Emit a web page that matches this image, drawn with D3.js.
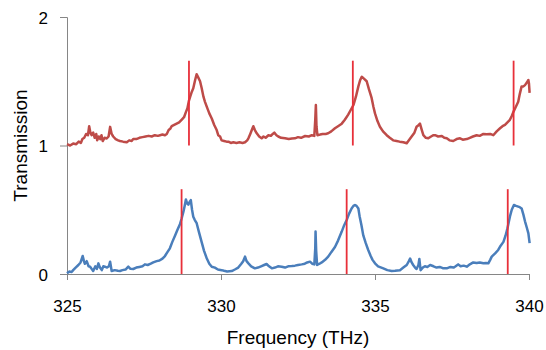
<!DOCTYPE html>
<html>
<head>
<meta charset="utf-8">
<script src="https://cdn.jsdelivr.net/npm/d3@7"></script>
<style>
  body { margin: 0; background: #fff; }
  #grafica text { font-family: "Liberation Sans", Arial, sans-serif; fill: #000; }
</style>
</head>
<body>
<div id="grafica"></div>
<script>
// datos
const freqRojo = [325.00,325.10,325.20,325.30,325.38,325.45,325.50,325.56,325.62,325.68,325.72,325.76,325.80,325.85,325.90,325.95,325.98,326.03,326.08,326.12,326.16,326.22,326.29,326.35,326.40,326.45,326.50,326.58,326.66,326.72,326.82,326.94,327.02,327.10,327.15,327.25,327.35,327.45,327.55,327.65,327.75,327.85,327.95,328.02,328.10,328.18,328.24,328.30,328.35,328.40,328.48,328.56,328.64,328.72,328.80,328.86,328.91,328.96,329.00,329.04,329.10,329.16,329.21,329.26,329.32,329.37,329.43,329.48,329.54,329.62,329.70,329.78,329.86,329.91,329.97,330.02,330.10,330.18,330.24,330.32,330.40,330.50,330.60,330.70,330.78,330.85,330.89,330.95,331.00,331.05,331.10,331.16,331.24,331.32,331.38,331.45,331.54,331.62,331.68,331.73,331.80,331.86,331.95,332.08,332.20,332.30,332.40,332.50,332.60,332.73,332.85,332.95,333.03,333.06,333.08,333.10,333.13,333.22,333.30,333.40,333.48,333.58,333.70,333.80,333.92,334.02,334.13,334.22,334.30,334.38,334.46,334.52,334.57,334.64,334.73,334.80,334.89,334.95,335.00,335.08,335.16,335.26,335.38,335.48,335.59,335.70,335.80,335.92,336.03,336.10,336.19,336.28,336.35,336.42,336.46,336.52,336.57,336.65,336.73,336.82,336.90,336.95,337.05,337.17,337.25,337.33,337.42,337.54,337.65,337.76,337.85,337.98,338.08,338.18,338.30,338.40,338.52,338.63,338.74,338.84,338.95,339.06,339.14,339.22,339.30,339.38,339.44,339.49,339.57,339.65,339.70,339.76,339.82,339.87,339.93,339.98,340.00,340.02];
const transRojo = [1.01,1.00,1.015,1.01,1.03,1.02,1.05,1.06,1.09,1.08,1.15,1.10,1.08,1.10,1.06,1.09,1.04,1.07,1.05,1.08,1.035,1.06,1.055,1.07,1.145,1.09,1.07,1.05,1.04,1.035,1.03,1.025,1.04,1.035,1.05,1.05,1.06,1.065,1.07,1.075,1.07,1.08,1.075,1.08,1.085,1.08,1.09,1.12,1.13,1.15,1.16,1.17,1.18,1.20,1.22,1.26,1.29,1.35,1.38,1.41,1.445,1.51,1.555,1.53,1.50,1.45,1.38,1.34,1.30,1.25,1.21,1.16,1.12,1.08,1.07,1.04,1.035,1.03,1.03,1.02,1.025,1.02,1.025,1.02,1.025,1.04,1.056,1.09,1.12,1.15,1.12,1.095,1.07,1.056,1.07,1.06,1.08,1.075,1.09,1.10,1.08,1.07,1.06,1.056,1.05,1.055,1.056,1.065,1.06,1.074,1.07,1.08,1.075,1.20,1.315,1.15,1.08,1.085,1.09,1.09,1.095,1.11,1.134,1.15,1.17,1.20,1.24,1.28,1.315,1.38,1.46,1.51,1.535,1.52,1.50,1.44,1.37,1.30,1.25,1.19,1.146,1.11,1.08,1.06,1.04,1.035,1.03,1.025,1.017,1.04,1.07,1.10,1.146,1.16,1.17,1.12,1.08,1.06,1.056,1.07,1.08,1.08,1.07,1.074,1.06,1.056,1.04,1.035,1.05,1.056,1.045,1.05,1.06,1.07,1.08,1.075,1.09,1.087,1.09,1.08,1.11,1.134,1.15,1.16,1.18,1.20,1.23,1.26,1.30,1.34,1.40,1.46,1.46,1.47,1.49,1.51,1.48,1.41];

const freqAzul = [325.00,325.08,325.15,325.20,325.28,325.37,325.44,325.51,325.55,325.58,325.64,325.70,325.75,325.80,325.85,325.92,325.97,326.02,326.07,326.13,326.18,326.23,326.30,326.36,326.40,326.45,326.55,326.65,326.72,326.80,326.90,326.99,327.06,327.15,327.25,327.35,327.45,327.53,327.62,327.72,327.80,327.91,328.00,328.10,328.18,328.26,328.34,328.42,328.51,328.58,328.67,328.72,328.78,328.82,328.86,328.90,328.94,328.98,329.02,329.06,329.10,329.15,329.21,329.28,329.37,329.45,329.54,329.62,329.70,329.80,329.90,330.02,330.10,330.20,330.35,330.45,330.56,330.66,330.72,330.78,330.83,330.89,330.98,331.10,331.20,331.30,331.40,331.48,331.56,331.65,331.75,331.85,331.97,332.08,332.18,332.30,332.40,332.50,332.62,332.72,332.80,332.89,332.96,333.03,333.06,333.07,333.09,333.12,333.20,333.27,333.38,333.48,333.58,333.70,333.80,333.92,334.00,334.08,334.16,334.24,334.30,334.35,334.40,334.46,334.50,334.56,334.62,334.70,334.78,334.86,334.92,335.00,335.10,335.27,335.40,335.54,335.65,335.81,335.92,336.03,336.10,336.14,336.19,336.24,336.30,336.35,336.41,336.44,336.48,336.55,336.62,336.70,336.79,336.90,337.00,337.10,337.20,337.33,337.45,337.55,337.62,337.70,337.78,337.88,337.98,338.08,338.19,338.30,338.40,338.52,338.60,338.68,338.74,338.79,338.90,339.00,339.08,339.17,339.24,339.30,339.34,339.38,339.44,339.51,339.58,339.65,339.70,339.76,339.82,339.87,339.93,339.98,340.02];
const transAzul = [0.005,0.02,0.015,0.03,0.05,0.07,0.09,0.14,0.10,0.08,0.10,0.06,0.057,0.04,0.023,0.06,0.04,0.083,0.05,0.03,0.06,0.057,0.05,0.06,0.096,0.023,0.03,0.025,0.023,0.03,0.035,0.057,0.04,0.039,0.05,0.055,0.06,0.075,0.07,0.08,0.09,0.10,0.105,0.12,0.14,0.17,0.20,0.25,0.30,0.34,0.39,0.43,0.485,0.53,0.58,0.55,0.54,0.56,0.575,0.50,0.446,0.42,0.395,0.33,0.25,0.18,0.12,0.08,0.057,0.05,0.035,0.03,0.025,0.02,0.023,0.035,0.05,0.08,0.10,0.135,0.10,0.083,0.06,0.044,0.05,0.06,0.07,0.078,0.06,0.044,0.05,0.06,0.057,0.05,0.06,0.062,0.065,0.07,0.075,0.08,0.09,0.096,0.08,0.075,0.20,0.33,0.18,0.07,0.08,0.09,0.11,0.135,0.17,0.21,0.26,0.33,0.38,0.42,0.47,0.51,0.53,0.537,0.53,0.51,0.45,0.38,0.30,0.24,0.187,0.14,0.11,0.083,0.06,0.044,0.03,0.023,0.025,0.03,0.05,0.07,0.10,0.12,0.09,0.07,0.05,0.039,0.07,0.117,0.03,0.05,0.06,0.055,0.07,0.06,0.05,0.055,0.045,0.044,0.055,0.05,0.06,0.075,0.06,0.065,0.057,0.075,0.09,0.085,0.09,0.083,0.085,0.083,0.11,0.135,0.16,0.187,0.22,0.25,0.30,0.355,0.40,0.446,0.50,0.537,0.53,0.524,0.52,0.51,0.46,0.41,0.36,0.316,0.24];

// marcas verticales (frecuencia, base, tope)
const marcasRojo = [328.96, 334.28, 339.50];
const marcasAzul = [328.72, 334.08, 339.31];
const rangoMarcaRojo = [1, 1.66];
const rangoMarcaAzul = [0, 0.66];

const ticksX = [325, 330, 335, 340];
const ticksY = [0, 1, 2];
const tituloX = "Frequency (THz)";
const tituloY = "Transmission";

// parametros de la grafica
const W = 546, H = 350;
const margin = { top: 17, right: 17, bottom: 76, left: 67 };
const width = W - margin.left - margin.right;
const height = H - margin.top - margin.bottom;
const colorGris = "#868686";

const xScale = d3.scaleLinear().domain([325, 340]).range([0, width]);
const yScale = d3.scaleLinear().domain([0, 2]).range([height, 0]);

const svg = d3.select("#grafica").append("svg")
  .attr("width", W)
  .attr("height", H)
  .append("g")
    .attr("transform", `translate(${margin.left}, ${margin.top})`);

// ejes
const xAxis = d3.axisBottom(xScale).tickValues(ticksX).tickSize(6).tickFormat(d3.format("d"));
const yAxis = d3.axisLeft(yScale).tickValues(ticksY).tickSize(7).tickFormat(d3.format("d"));

const gx = svg.append("g")
  .attr("transform", `translate(0, ${height})`)
  .call(xAxis);
gx.selectAll("text").attr("dy", null).attr("y", 38).style("font-size", "17px");

const gy = svg.append("g").call(yAxis);
gy.selectAll("text").attr("x", -19).attr("dy", "0.36em").style("font-size", "17px");

[gx, gy].forEach(g => {
  g.select(".domain").attr("stroke", colorGris);
  g.selectAll(".tick line").attr("stroke", colorGris);
});

svg.append("text")
  .attr("x", width / 2)
  .attr("y", H - margin.top - 6)
  .attr("text-anchor", "middle")
  .style("font-size", "19px")
  .text(tituloX);

svg.append("text")
  .attr("transform", "rotate(-90)")
  .attr("x", -height / 2)
  .attr("y", 27 - margin.left)
  .attr("text-anchor", "middle")
  .style("font-size", "19px")
  .text(tituloY);

// lineas de transmision
const line = d3.line()
  .x(d => xScale(d[0]))
  .y(d => yScale(d[1]));

svg.append("path")
  .datum(d3.zip(freqAzul, transAzul))
  .attr("fill", "none")
  .attr("stroke", "#4a7ebb")
  .attr("stroke-width", 2.5)
  .attr("stroke-linejoin", "round")
  .attr("d", line);

svg.append("path")
  .datum(d3.zip(freqRojo, transRojo))
  .attr("fill", "none")
  .attr("stroke", "#be4b48")
  .attr("stroke-width", 2.5)
  .attr("stroke-linejoin", "round")
  .attr("d", line);

// marcas verticales rojas
const marcas = marcasRojo.map(f => [f, rangoMarcaRojo])
  .concat(marcasAzul.map(f => [f, rangoMarcaAzul]));

svg.selectAll(".marca")
  .data(marcas).enter()
  .append("line")
  .attr("class", "marca")
  .attr("x1", d => xScale(d[0]))
  .attr("x2", d => xScale(d[0]))
  .attr("y1", d => yScale(d[1][0]))
  .attr("y2", d => yScale(d[1][1]))
  .attr("stroke", "#e8303a")
  .attr("stroke-width", 1.8);
</script>
</body>
</html>
